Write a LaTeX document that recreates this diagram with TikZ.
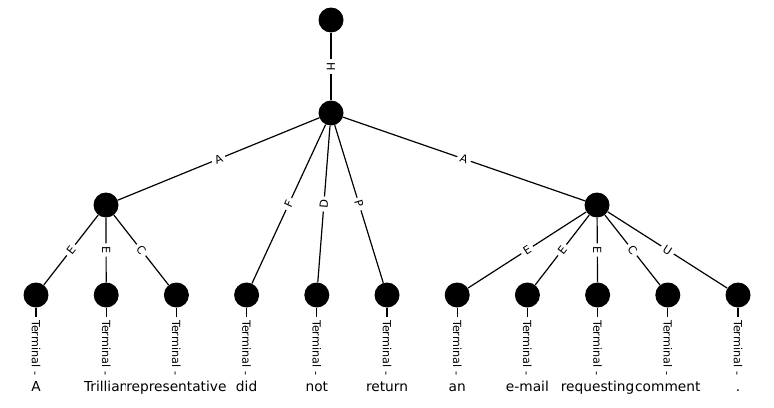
\documentclass[tikz,border=0pt]{standalone}
\usepackage{fontspec}
\setmainfont{DejaVu Sans}

\tikzset{
    vert/.style={circle, fill=black, inner sep=0pt, minimum size=18.75pt},
    word/.style={anchor=base, fill=white, inner sep=0.2pt, text height=7.7pt, text depth=2.1pt,
        font=\fontsize{10.3}{12}\selectfont},
    elab/.style={midway, sloped, fill=white, inner sep=2.4pt, font=\fontsize{8.4}{10}\selectfont},
    link/.style={line width=0.9pt}
}

\begin{document}
\begin{tikzpicture}[x=0.75pt, y=-0.75pt]
\useasboundingbox[fill=white] (0,0) rectangle (774,407);

% Upper nodes
\node[vert] (root) at (331,20) {};
\node[vert] (top) at (331,113) {};
\node[vert] (left) at (106,205) {};
\node[vert] (right) at (597,205) {};

% Terminals with their words
\foreach \i/\w in {1/A, 2/Trillian, 3/representative, 4/did, 5/not, 6/return,
                   7/an, 8/e-mail, 9/requesting, 10/comment, 11/.} {
    \node[vert] (t\i) at ({36+70.2*(\i-1)},295) {};
    \node[word] (w\i) at ({36+70.2*(\i-1)},391) {\w};
    \draw[link, shorten >=4pt] (t\i) -- (w\i) node[elab, pos=0.55] {Terminal -};
}

% Edges of the tree
\draw[link] (root) -- (top) node[elab] {H};
\draw[link] (top) -- (left) node[elab] {A};
\draw[link] (top) -- (t4) node[elab] {F};
\draw[link] (top) -- (t5) node[elab] {D};
\draw[link] (top) -- (t6) node[elab] {P};
\draw[link] (top) -- (right) node[elab] {A};

\draw[link] (left) -- (t1) node[elab] {E};
\draw[link] (left) -- (t2) node[elab] {E};
\draw[link] (left) -- (t3) node[elab] {C};

\draw[link] (right) -- (t7) node[elab] {E};
\draw[link] (right) -- (t8) node[elab] {E};
\draw[link] (right) -- (t9) node[elab] {E};
\draw[link] (right) -- (t10) node[elab] {C};
\draw[link] (right) -- (t11) node[elab] {U};
\end{tikzpicture}
\end{document}
